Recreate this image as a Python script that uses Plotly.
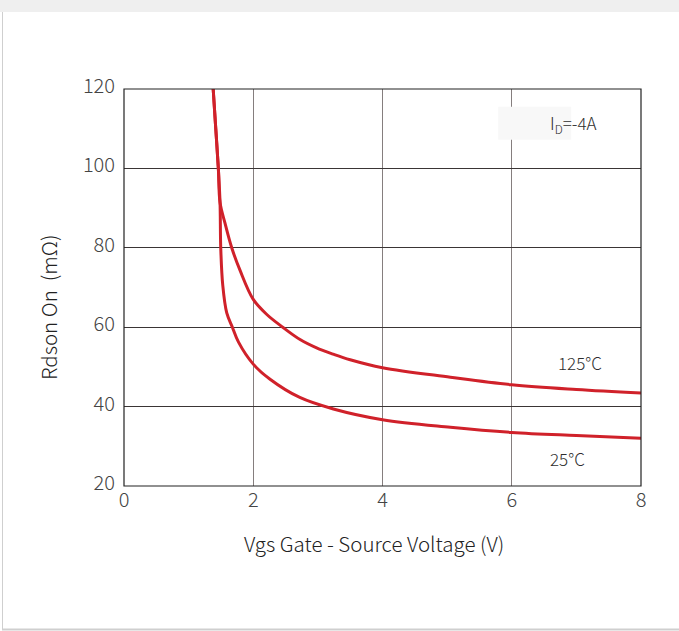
import plotly.graph_objects as go

# Gate voltage (V) and on-resistance (mOhm) at two junction temperatures
vgs_125 = [1.38, 1.42, 1.46, 1.486, 1.563, 1.667, 1.796, 2.0, 2.21, 2.456,
           2.724, 2.98, 3.24, 3.50, 4.0, 5.05, 6.0, 7.0, 8.0]
rds_125 = [120, 110, 100, 91.4, 86.2, 80, 74.3, 67.0, 63.2, 60,
           56.9, 54.8, 53.2, 51.8, 49.8, 47.4, 45.5, 44.3, 43.4]

vgs_25 = [1.38, 1.42, 1.46, 1.486, 1.497, 1.528, 1.59, 1.677, 1.77, 2.0,
          2.26, 2.72, 3.24, 4.0, 5.05, 6.0, 7.0, 8.0]
rds_25 = [120, 110, 100, 91.4, 80, 70.6, 63.6, 60, 56.3, 50.7,
          46.9, 42.3, 39.4, 36.7, 34.8, 33.5, 32.7, 32.0]

x_ticks = [0, 2, 4, 6, 8]
y_ticks = [20, 40, 60, 80, 100, 120]

W, H = 679, 631
ML, MR, MT, MB = 124, 38, 89, 145
PW, PH = W - ML - MR, H - MT - MB

FONT = "Noto Sans CJK SC, Noto Sans, sans-serif"
RED = "#d0212a"
TXT = "#3a3a3a"


def px(x):
    return (x - ML) / PW


def py(y):
    return (H - MB - y) / PH


fig = go.Figure()
for xs, ys in [(vgs_125, rds_125), (vgs_25, rds_25)]:
    fig.add_trace(go.Scatter(
        x=xs, y=ys, mode="lines",
        line=dict(color=RED, width=3, shape="spline", smoothing=1.0),
        showlegend=False, hoverinfo="skip",
    ))

shapes = [
    # page frame
    dict(type="rect", xref="paper", yref="paper", x0=px(0), x1=px(W), y0=py(0), y1=py(12),
         fillcolor="#efefef", line_width=0, layer="below"),
    dict(type="line", xref="paper", yref="paper", x0=px(2.5), x1=px(2.5), y0=py(12), y1=py(630),
         line=dict(color="#cfcfcf", width=1)),
    dict(type="line", xref="paper", yref="paper", x0=px(2), x1=px(W), y0=py(629.5), y1=py(629.5),
         line=dict(color="#cfcfcf", width=2)),
    # label backdrop
    dict(type="rect", xref="x", yref="y", x0=5.79, x1=6.92, y0=107.2, y1=115.5,
         fillcolor="#f8f8f8", line_width=0, layer="above"),
    # plot border
    dict(type="rect", xref="paper", yref="paper", x0=0, x1=1, y0=0, y1=1,
         line=dict(color="#222222", width=1.2), layer="above"),
]

LBL = dict(family=FONT, size=17, color="#2e2e2e", weight=300)
TITLE = dict(family=FONT, size=20.5, color="#222", weight=300)
annotations = [
    dict(x=6.95, y=111.2, xref="x", yref="y", text="I<sub>D</sub>=-4A", showarrow=False, font=LBL),
    dict(x=7.06, y=51.2, xref="x", yref="y", text="125°C", showarrow=False, font=LBL),
    dict(x=6.87, y=27.0, xref="x", yref="y", text="25°C", showarrow=False, font=LBL),
    dict(x=px(374), y=py(543), xref="paper", yref="paper", xanchor="center", yanchor="middle",
         text="Vgs Gate - Source Voltage (V)", showarrow=False, font=TITLE),
    dict(x=px(48), y=py(308), xref="paper", yref="paper", xanchor="center", yanchor="middle",
         text="Rdson On  (mΩ)", showarrow=False, textangle=-90, font=TITLE),
]

TICK = dict(family=FONT, size=20, color="#444", weight=300)
fig.update_layout(
    width=W, height=H,
    margin=dict(l=ML, r=MR, t=MT, b=MB),
    paper_bgcolor="white", plot_bgcolor="white",
    shapes=shapes, annotations=annotations,
    font=dict(family=FONT, color=TXT),
)
fig.update_xaxes(
    range=[0, 8], tickvals=x_ticks, ticks="", showline=False,
    showgrid=True, gridcolor="#857e7e", gridwidth=1.3, zeroline=False,
    ticklabelstandoff=0, tickfont=TICK,
)
fig.update_yaxes(
    range=[20, 120], tickvals=y_ticks, ticks="", showline=False,
    showgrid=True, gridcolor="#3a3535", gridwidth=1.2, zeroline=False,
    ticklabelstandoff=8, ticklabelshift=-3, tickfont=TICK,
)

fig.write_html("out.html")
